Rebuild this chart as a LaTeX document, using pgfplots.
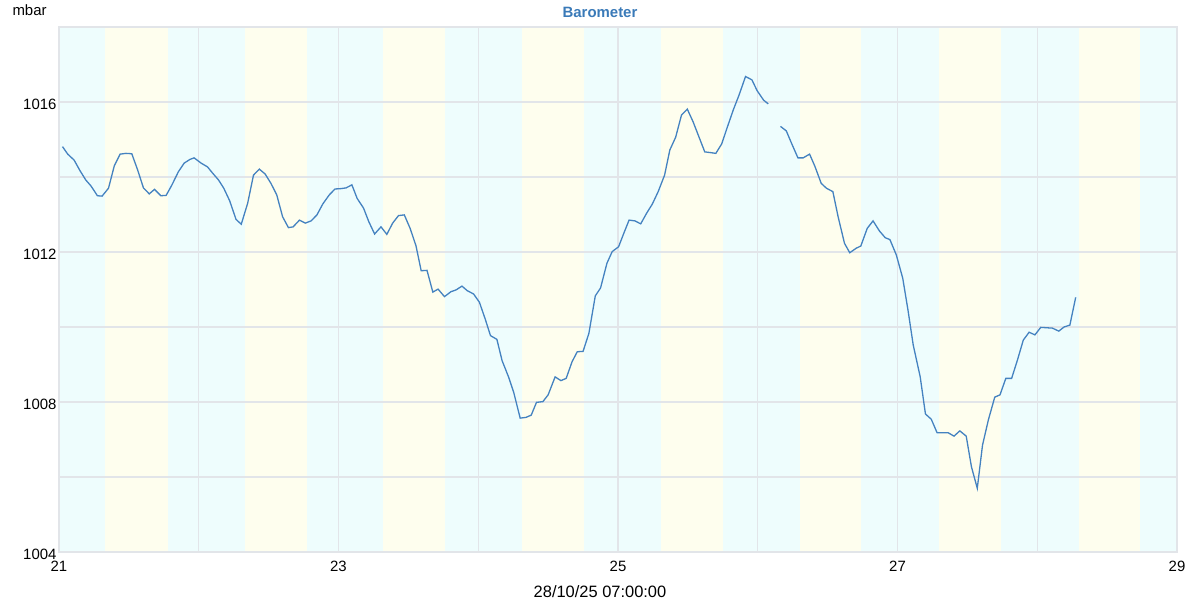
\documentclass[border=0pt]{standalone}
\usepackage{fontspec}
\setmainfont{Liberation Sans}
\usepackage{pgfplots}
\usepackage{pgfplotstable}
\pgfplotsset{compat=1.18}

\definecolor{bandcyan}{RGB}{238,253,253}
\definecolor{bandyellow}{RGB}{254,254,238}
\definecolor{gridgray}{RGB}{226,229,233}
\definecolor{linecol}{RGB}{68,130,192}
\definecolor{titleblue}{RGB}{58,122,184}

% hours since 21/10 00:00, pressure in mbar (nan = gap in the record)
\pgfplotstableread{
h     p
0.6   1014.81
1.5   1014.61
2.6   1014.45
3.6   1014.17
4.6   1013.92
5.5   1013.76
6.6   1013.50
7.4   1013.49
8.5   1013.70
9.5   1014.30
10.5  1014.61
11.5  1014.63
12.5  1014.62
13.5  1014.19
14.5  1013.71
15.5  1013.55
16.4  1013.67
17.5  1013.50
18.4  1013.51
19.4  1013.79
20.5  1014.14
21.5  1014.37
22.5  1014.47
23.2  1014.51
24.4  1014.37
25.5  1014.27
26.4  1014.10
27.4  1013.92
28.3  1013.70
29.3  1013.37
30.4  1012.87
31.3  1012.74
32.4  1013.30
33.4  1014.05
34.4  1014.21
35.4  1014.08
36.4  1013.83
37.4  1013.52
38.4  1012.94
39.4  1012.65
40.2  1012.67
41.3  1012.85
42.3  1012.77
43.3  1012.83
44.3  1012.99
45.3  1013.28
46.4  1013.52
47.4  1013.68
48.4  1013.69
49.3  1013.71
50.3  1013.79
51.2  1013.43
52.3  1013.17
53.2  1012.81
54.2  1012.48
55.3  1012.67
56.3  1012.47
57.3  1012.77
58.3  1012.97
59.3  1012.99
60.3  1012.63
61.3  1012.17
62.2  1011.50
63.2  1011.51
64.2  1010.93
65.1  1011.01
66.2  1010.81
67.3  1010.94
68.2  1010.99
69.2  1011.09
70.1  1010.97
71.2  1010.88
72.2  1010.66
73.2  1010.21
74.1  1009.77
75.2  1009.67
76.1  1009.10
77.2  1008.67
78.1  1008.25
79.2  1007.57
80.2  1007.59
81.1  1007.65
82.0  1007.99
83.1  1008.01
84.0  1008.19
85.2  1008.67
86.2  1008.57
87.1  1008.63
88.1  1009.07
89.0  1009.34
90.0  1009.35
91.0  1009.83
92.1  1010.83
93.0  1011.04
94.1  1011.70
95.0  1012.01
96.1  1012.14
97.0  1012.50
97.9  1012.85
98.9  1012.83
99.9  1012.75
100.9 1013.03
101.9 1013.28
102.9 1013.61
104.0 1014.05
104.9 1014.72
105.9 1015.06
106.9 1015.65
107.9 1015.81
108.9 1015.47
109.9 1015.07
110.9 1014.67
111.9 1014.65
112.8 1014.63
113.8 1014.88
114.8 1015.34
115.8 1015.79
116.8 1016.19
117.9 1016.68
119.0 1016.59
119.9 1016.30
121.0 1016.05
121.8 1015.95
122.9 nan
123.9 1015.35
124.9 1015.23
125.8 1014.90
126.9 1014.51
127.8 1014.51
128.9 1014.61
129.8 1014.29
130.9 1013.83
131.8 1013.70
132.9 1013.61
133.8 1012.94
134.9 1012.23
135.8 1011.98
136.9 1012.10
137.7 1012.16
138.8 1012.63
139.8 1012.83
140.9 1012.56
141.9 1012.38
142.7 1012.33
143.8 1011.92
144.9 1011.30
145.8 1010.45
146.7 1009.52
147.9 1008.67
148.8 1007.68
149.8 1007.54
150.8 1007.18
151.8 1007.18
152.7 1007.18
153.7 1007.09
154.7 1007.23
155.8 1007.09
156.7 1006.27
157.7 1005.70
158.6 1006.85
159.6 1007.52
160.7 1008.13
161.6 1008.19
162.6 1008.63
163.6 1008.63
164.6 1009.12
165.6 1009.65
166.6 1009.86
167.6 1009.79
168.6 1009.99
169.6 1009.98
170.6 1009.97
171.7 1009.89
172.6 1010.00
173.6 1010.05
174.6 1010.79
}\baro

\begin{document}
\begin{tikzpicture}
\begin{axis}[
  set layers,
  scale only axis,
  width=1118bp, height=525bp,
  xmin=0, xmax=192,
  ymin=1004, ymax=1018,
  xtick={0,24,...,192},
  xticklabels={21,,23,,25,,27,,29},
  ytick={1004,1006,...,1016},
  yticklabels={1004,,1008,,1012,,1016},
  grid=major,
  grid style={gridgray, line width=1.1bp},
  axis line style={gridgray, line width=1.2bp},
  axis background/.style={fill=bandcyan},
  tick style={draw=none},
  ticklabel style={font=\fontsize{15}{17}\selectfont, text=black},
  yticklabel style={xshift=1bp, yshift=-2bp},
  xticklabel style={yshift=-6bp},
  /pgf/number format/assume math mode=true,
  title={Barometer},
  title style={font=\bfseries\fontsize{15}{18}\selectfont, text=titleblue,
               at={(0.5,1)}, anchor=center, yshift=9bp, xshift=-18bp},
  xlabel={28/10/25 07:00:00},
  xlabel style={font=\fontsize{16.5}{19}\selectfont, at={(0.5,0)},
                anchor=center, yshift=-40bp, xshift=-18bp},
  ylabel={mbar},
  every axis y label/.style={at={(0,1)}, anchor=west,
                             xshift=-50bp, yshift=17bp,
                             font=\fontsize{15}{18}\selectfont},
  unbounded coords=jump,
]

%% daylight bands
\addplot[fill=bandyellow, draw=none, on layer=axis background]
  coordinates {(7.90,1004) (7.90,1018) (18.67,1018) (18.67,1004)} -- cycle;
\addplot[fill=bandyellow, draw=none, on layer=axis background]
  coordinates {(31.97,1004) (31.97,1018) (42.57,1018) (42.57,1004)} -- cycle;
\addplot[fill=bandyellow, draw=none, on layer=axis background]
  coordinates {(55.60,1004) (55.60,1018) (66.31,1018) (66.31,1004)} -- cycle;
\addplot[fill=bandyellow, draw=none, on layer=axis background]
  coordinates {(79.48,1004) (79.48,1018) (90.24,1018) (90.24,1004)} -- cycle;
\addplot[fill=bandyellow, draw=none, on layer=axis background]
  coordinates {(103.43,1004) (103.43,1018) (113.97,1018) (113.97,1004)} -- cycle;
\addplot[fill=bandyellow, draw=none, on layer=axis background]
  coordinates {(127.21,1004) (127.21,1018) (137.80,1018) (137.80,1004)} -- cycle;
\addplot[fill=bandyellow, draw=none, on layer=axis background]
  coordinates {(151.20,1004) (151.20,1018) (161.78,1018) (161.78,1004)} -- cycle;
\addplot[fill=bandyellow, draw=none, on layer=axis background]
  coordinates {(175.25,1004) (175.25,1018) (185.64,1018) (185.64,1004)} -- cycle;

%% pressure
\addplot[linecol, line width=1.3bp, mark=none] table[x=h, y=p] {\baro};

\end{axis}
\pgfresetboundingbox
\path (current axis.south west) ++(-59bp,-48bp) rectangle ++(1200bp,600bp);
\end{tikzpicture}
\end{document}
